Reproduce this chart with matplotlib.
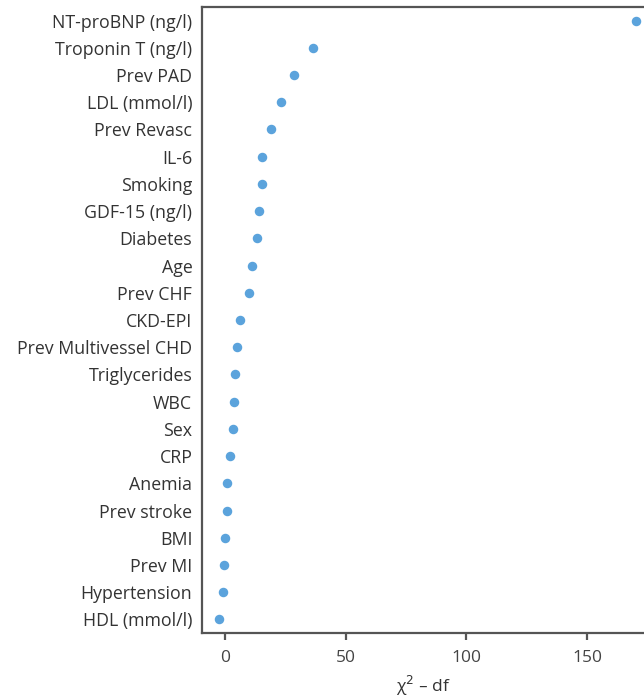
import matplotlib
matplotlib.use("Agg")
import matplotlib.pyplot as plt

labels = ["NT-proBNP (ng/l)", "Troponin T (ng/l)", "Prev PAD", "LDL (mmol/l)",
          "Prev Revasc", "IL-6", "Smoking", "GDF-15 (ng/l)", "Diabetes", "Age",
          "Prev CHF", "CKD-EPI", "Prev Multivessel CHD", "Triglycerides", "WBC",
          "Sex", "CRP", "Anemia", "Prev stroke", "BMI", "Prev MI",
          "Hypertension", "HDL (mmol/l)"]
values = [170.2, 36.6, 28.4, 23.4, 18.9, 15.3, 15.2, 14.2, 13.1, 11.0,
          10.0, 6.3, 4.8, 4.1, 3.9, 3.3, 2.2, 1.0, 0.8, -0.1, -0.3, -1.0, -2.6]
xticks = [0, 50, 100, 150]

plt.rcParams['font.family'] = ['Open Sans', 'DejaVu Sans']

fig = plt.figure(figsize=(6.44, 7.0), dpi=100)
ax = fig.add_axes([202/644, 67/700, 442/644, 626/700])

ypos = list(range(len(labels)))[::-1]
ax.scatter(values, ypos, s=34, color="#5ba3dc", zorder=3, clip_on=False)

ax.set_xlim(-9.5, 173.5)
ax.set_ylim(-0.5, len(labels) - 0.5)
ax.set_yticks(ypos)
ax.set_yticklabels(labels, fontsize=12.8, color="#333333")
ax.set_xticks(xticks)
ax.set_xticklabels([str(t) for t in xticks], fontsize=12.5, color="#444444")
ax.tick_params(axis='y', length=0, pad=7)
ax.tick_params(axis='x', length=5, width=1.6, color="#555555", pad=7)
ax.set_xlabel("χ$^2$ – df", fontsize=12.5, color="#333333", labelpad=6)

for side in ["left", "top", "bottom"]:
    ax.spines[side].set_color("#555555")
    ax.spines[side].set_linewidth(1.6)
ax.spines["right"].set_visible(False)

fig.savefig("out.png", dpi=100)
